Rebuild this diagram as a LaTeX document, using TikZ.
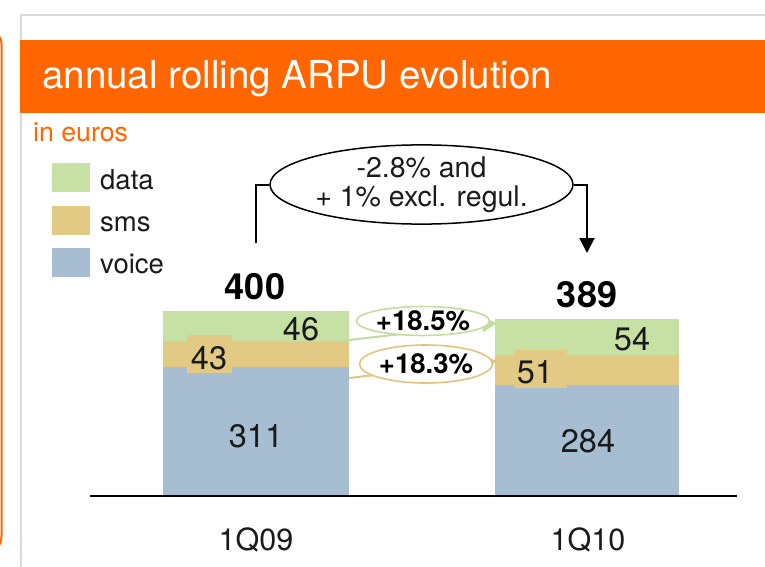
\documentclass[tikz,border=0pt]{standalone}
\usepackage{fontspec}
\setmainfont{TeX Gyre Heros}
\usetikzlibrary{shapes.geometric,arrows.meta}
\definecolor{orangeT}{HTML}{FF6600}
\definecolor{dataC}{HTML}{C7E0A4}
\definecolor{smsC}{HTML}{E3CA84}
\definecolor{voiceC}{HTML}{A7BED2}
\definecolor{frameC}{HTML}{D9D9D9}
\definecolor{greenL}{HTML}{C3DD9C}
\definecolor{orangeL}{HTML}{E2C47C}
\definecolor{txt}{HTML}{1A1A1A}
\tikzset{
  seg/.style={rectangle, inner sep=0pt, draw=none},
  lbl/.style={inner sep=0pt, text=txt, font=\fontsize{32.5}{38}\selectfont},
  tot/.style={inner sep=0pt, text=black, font=\fontsize{36}{42}\selectfont\bfseries},
  leg/.style={inner sep=0pt, text=txt, anchor=base west, font=\fontsize{27.5}{32}\selectfont},
  legbox/.style={rectangle, inner sep=0pt, minimum width=38pt, minimum height=29pt},
  growth/.style={ellipse, inner sep=0pt, fill=white, line width=1.6pt, font=\fontsize{27.5}{32}\selectfont\bfseries},
  tri/.style={-{Triangle[length=15pt,width=15pt]}},
}
\begin{document}
\begin{tikzpicture}[x=1pt,y=-1pt]
\useasboundingbox (0,0) rectangle (765,567);
% frame
\draw[frameC, line width=2pt] (20.5,567) -- (20.5,15.5) -- (765,15.5);
\draw[orangeT, line width=2pt] (-12,30) to[out=0,in=90] (1.5,44) -- (1.5,536) to[out=-90,in=0] (-12,552);
% title
\fill[orangeT] (20,40) rectangle (765,113);
\node[anchor=base west, inner sep=0pt, text=white, font=\fontsize{38.5}{44}\selectfont] (title) at (42,89) {annual rolling ARPU evolution};
\node[anchor=base west, inner sep=0pt, text=orangeT, font=\fontsize{26.7}{31}\selectfont] (unit) at (33,141) {in euros};
% legend
\node[legbox, fill=dataC] (kd) at (71,177.5) {};
\node[legbox, fill=smsC] (ks) at (71,220.5) {};
\node[legbox, fill=voiceC] (kv) at (71,262.5) {};
\node[leg] (ld) at (100,189) {data};
\node[leg] (ls) at (100,231) {sms};
\node[leg] (lv) at (100,273) {voice};
% bars
\node[seg, fill=dataC, minimum width=186pt, minimum height=30pt] (b1d) at (256,326) {};
\node[seg, fill=smsC, minimum width=186pt, minimum height=26pt] (b1s) at (256,354) {};
\node[seg, fill=voiceC, minimum width=186pt, minimum height=128pt] (b1v) at (256,431) {};
\node[seg, fill=dataC, minimum width=184pt, minimum height=36pt] (b2d) at (587,337) {};
\node[seg, fill=smsC, minimum width=184pt, minimum height=30pt] (b2s) at (587,370) {};
\node[seg, fill=voiceC, minimum width=184pt, minimum height=110pt] (b2v) at (587,440) {};
% axis
\coordinate (ax1) at (90,496);
\coordinate (ax2) at (737,496);
\draw[black, line width=2pt] (ax1) -- (ax2);
% bar labels
\node[seg, fill=smsC, minimum width=45pt, minimum height=38pt] (b1sbox) at (209.5,354) {};
\node[seg, fill=smsC, minimum width=53pt, minimum height=38pt] (b2sbox) at (540.5,369) {};
\node[lbl] (v46) at (301,329) {46};
\node[lbl] (v43) at (209,358) {43};
\node[lbl] (v311) at (256,436) {311};
\node[lbl] (v54) at (632,339) {54};
\node[lbl] (v51) at (535,372) {51};
\node[lbl] (v284) at (588,441) {284};
\node[tot] (t400) at (255,287) {400};
\node[tot] (t389) at (587,295) {389};
\node[lbl, font=\fontsize{30.5}{36}\selectfont] (q1) at (256,540) {1Q09};
\node[lbl, font=\fontsize{30.5}{36}\selectfont] (q2) at (588,540) {1Q10};
% overall change
\node[ellipse, draw=black, line width=1.5pt, fill=white, minimum width=303pt, minimum height=75pt, inner sep=0pt, align=center, text=txt, font=\fontsize{28.5}{29}\selectfont] (ell) at (421.5,184.5) {-2.8\% and\\+ 1\% excl. regul.};
\coordinate (c1) at (256,243);
\coordinate (c2) at (587,253);
\draw[black, line width=2pt] (c1) |- (ell.west);
\draw[black, line width=2pt, tri] (ell.east) -| (c2);
% growth arrows
\coordinate (g1) at (349,340);
\coordinate (g2) at (497,323);
\coordinate (o1) at (349,378);
\coordinate (o2) at (497,361);
\draw[greenL, line width=2pt, tri] (g1) -- (g2);
\draw[orangeL, line width=2pt, tri] (o1) -- (o2);
\node[growth, draw=greenL, minimum width=100pt, minimum height=28pt] (e1) at (423,321) {+18.5\%};
\node[growth, draw=orangeL, minimum width=102pt, minimum height=38pt] (e2) at (426,364) {+18.3\%};
\end{tikzpicture}
\end{document}
